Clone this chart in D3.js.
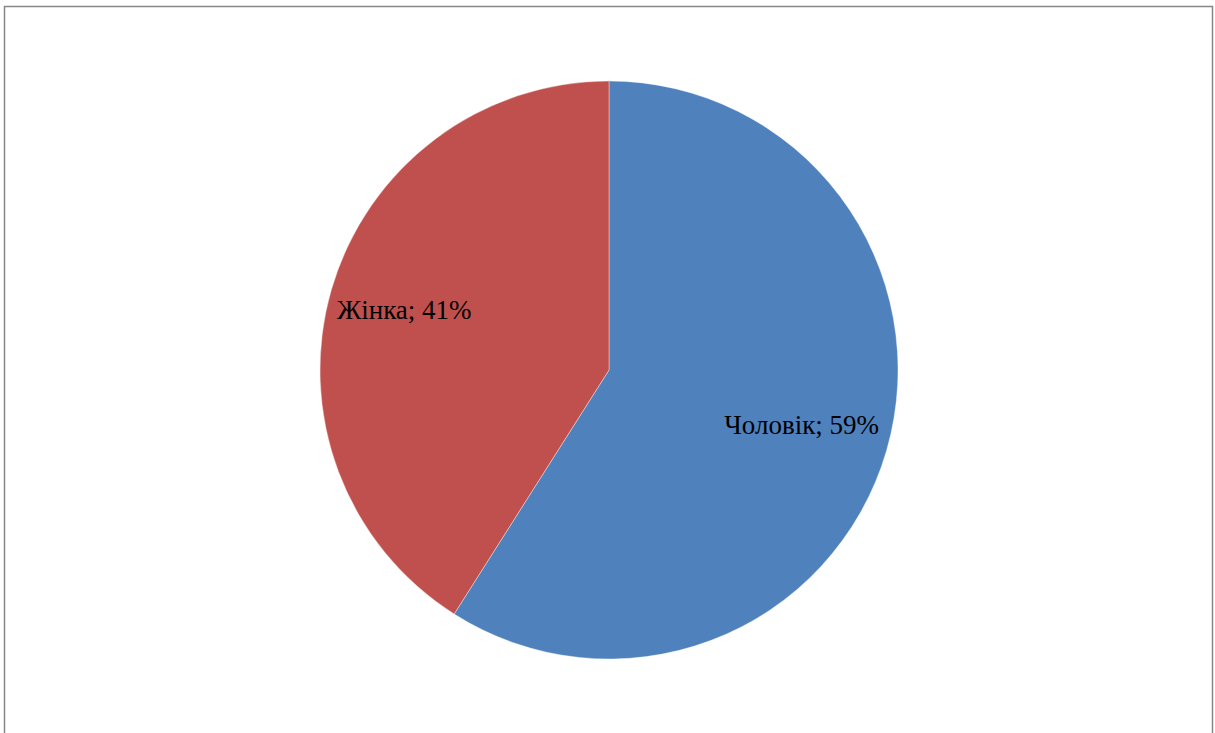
<!DOCTYPE html>
<html>
<head>
<meta charset="utf-8">
<script src="https://cdn.jsdelivr.net/npm/d3@7"></script>
<style>
  body { margin: 0; background: #fff; }
</style>
</head>
<body>
<div id="chart"></div>
<script>
const categories = ["Чоловік", "Жінка"];
const values = [59, 41];
const colors = ["#4f81bd", "#c0504d"];

const width = 1215;
const height = 733;
const cx = 609, cy = 370, radius = 289;

const svg = d3.select("#chart")
    .append("svg")
    .attr("width", width)
    .attr("height", height);

// Рамка області діаграми
svg.append("rect")
    .attr("x", 4.5)
    .attr("y", 6.5)
    .attr("width", 1208)
    .attr("height", 740)
    .attr("fill", "#fff")
    .attr("stroke", "#868686")
    .attr("stroke-width", 1.5);

const data = categories.map((c, i) => ({ name: c, value: values[i], color: colors[i] }));

const pie = d3.pie()
    .value(d => d.value)
    .sort(null);

const arc = d3.arc()
    .innerRadius(0)
    .outerRadius(radius);

const labelArc = d3.arc()
    .innerRadius(radius * 0.716)
    .outerRadius(radius * 0.716);

const g = svg.append("g")
    .attr("transform", `translate(${cx}, ${cy})`);

const arcs = pie(data);

g.selectAll(".slice")
    .data(arcs)
    .enter()
    .append("path")
    .attr("class", "slice")
    .attr("d", arc)
    .attr("fill", d => d.data.color)
    .attr("stroke", "#fff")
    .attr("stroke-opacity", 0.5)
    .attr("stroke-width", 0.75);

g.selectAll(".label")
    .data(arcs)
    .enter()
    .append("text")
    .attr("class", "label")
    .attr("transform", d => {
        const [x, y] = labelArc.centroid(d);
        return `translate(${x - 6}, ${y - 3})`;
    })
    .attr("text-anchor", "middle")
    .attr("dy", "0.35em")
    .style("font-family", "'Liberation Serif', 'Times New Roman', serif")
    .style("font-size", "27px")
    .attr("fill", "#000")
    .text(d => `${d.data.name}; ${d.data.value}%`);
</script>
</body>
</html>
